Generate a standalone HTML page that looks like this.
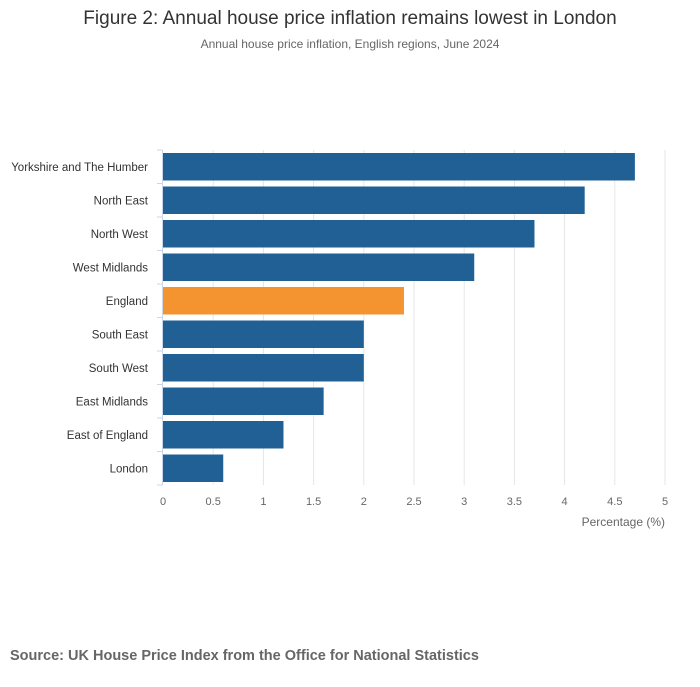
<!DOCTYPE html>
<html><head><meta charset="utf-8"><style>
body{margin:0;background:#fff;font-family:"Liberation Sans",sans-serif;}
svg text{font-family:"Liberation Sans",sans-serif;}
</style></head><body>
<svg width="700" height="682">
<text x="350" y="24" text-anchor="middle" font-size="19" fill="#333">Figure 2: Annual house price inflation remains lowest in London</text>
<text x="350" y="48" text-anchor="middle" font-size="12" fill="#666">Annual house price inflation, English regions, June 2024</text>
<g id="grid"></g><g id="bars"></g><g id="axes"></g>
<text x="665" y="526" text-anchor="end" font-size="12" fill="#666">Percentage (%)</text>
<text x="10" y="660" font-size="14.5" font-weight="bold" fill="#666">Source: UK House Price Index from the Office for National Statistics</text>
</svg>
<script>
const categories=["Yorkshire and The Humber","North East","North West","West Midlands","England","South East","South West","East Midlands","East of England","London"];
const values=[4.7,4.2,3.7,3.1,2.4,2.0,2.0,1.6,1.2,0.6];
const tickValues=[0,0.5,1,1.5,2,2.5,3,3.5,4,4.5,5];
const tickLabels=["0","0.5","1","1.5","2","2.5","3","3.5","4","4.5","5"];
const NS="http://www.w3.org/2000/svg";
const x0=163,x1=665,plotTop=150,plotBottom=485;
const step=(plotBottom-plotTop)/categories.length;
const xs=v=>x0+v/5*(x1-x0);
function mk(t,a,p){const e=document.createElementNS(NS,t);for(const k in a)e.setAttribute(k,a[k]);p.appendChild(e);return e;}
const grid=document.getElementById('grid'),bars=document.getElementById('bars'),axes=document.getElementById('axes');
tickValues.forEach((v,i)=>{
 if(v>0){const g=mk('line',{x1:xs(v),x2:xs(v),y1:plotTop,y2:plotBottom,stroke:'#e6e6e6'},grid);
 
 }
 const t=mk('text',{x:xs(v),y:plotBottom+20,'text-anchor':'middle','font-size':11,fill:'#666'},axes);t.textContent=tickLabels[i];
 
 
});
categories.forEach((c,i)=>{
 const y=plotTop+i*step;
 const r=mk('rect',{x:x0,y:y+3,width:xs(values[i])-x0,height:step-6,fill:c==="England"?'#f39431':'#206095'},bars);
 
 
 const t=mk('text',{x:148,y:y+step/2+4,'text-anchor':'end','font-size':11.5,fill:'#333'},axes);t.textContent=c;
 
 
});
for(let i=0;i<=categories.length;i++){const y=plotTop+i*step;const l=mk('line',{x1:157,x2:162.5,y1:y,y2:y,stroke:'#ccd6eb'},axes);
 
 }
const ax=mk('line',{x1:162.5,x2:162.5,y1:plotTop,y2:plotBottom,stroke:'#ccd6eb'},axes);


</script>
</body></html>
